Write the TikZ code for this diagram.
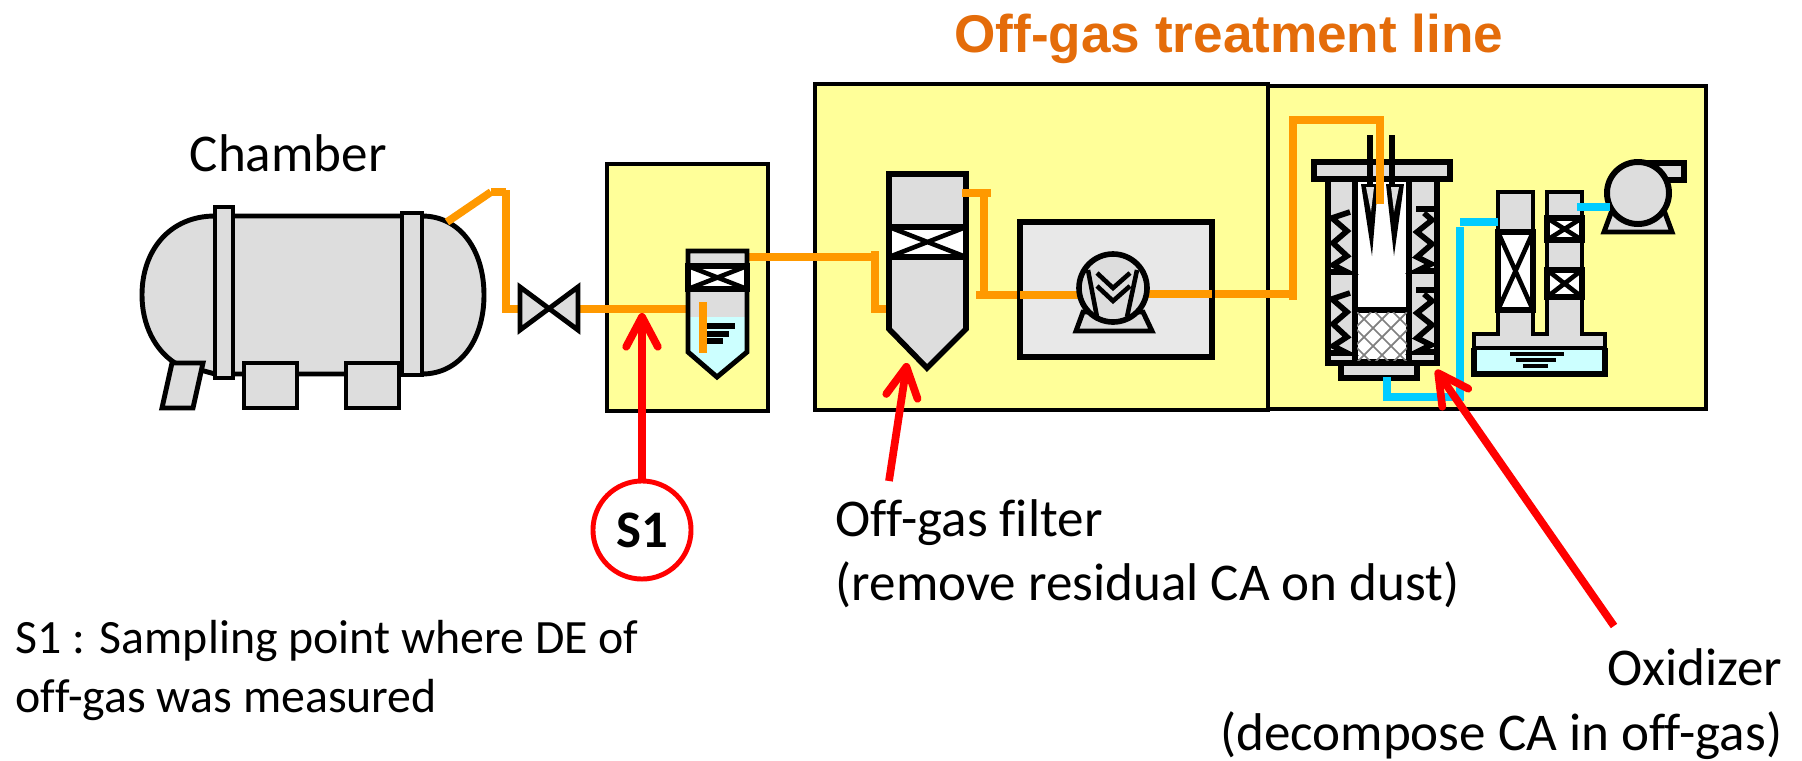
\documentclass[tikz,border=0pt]{standalone}
\usepackage{fontspec}
\setmainfont[Ligatures=NoCommon]{Carlito}
\newfontfamily\titlefont{Liberation Sans}
\usepackage{xcolor}
\definecolor{plant-gray}{HTML}{DDDDDD}
\definecolor{plant-yellow}{HTML}{FFFF99}
\definecolor{plant-pale}{HTML}{E8E8E8}
\definecolor{plant-water}{HTML}{CCFFFF}
\definecolor{plant-orange}{HTML}{FF9900}
\definecolor{plant-cyan}{HTML}{00CCFF}
\definecolor{plant-title}{HTML}{E46C0A}
\usepackage{tikz}
\usetikzlibrary{arrows.meta}
\tikzset{
    unit/.style={fill=plant-yellow, draw=black, line width=1.1pt},
    part/.style={fill=plant-gray, draw=black, line width=1.4pt, line join=miter},
    band/.style={fill=white, draw=black, line width=1.9pt},
    wire/.style={draw=black, line width=1.3pt},
    gaspipe/.style={draw=plant-orange, line width=2.2pt},
    waterpipe/.style={draw=plant-cyan, line width=2.2pt},
    pointer/.style={draw=red, line width=2.2pt, -{Straight Barb[length=8.5pt,width=9pt,round]}},
    label/.style={inner sep=0pt, font=\fontsize{15.1}{18.4}\selectfont, align=left}
}

\begin{document}
\begin{tikzpicture}[x=0.01cm, y=-0.01cm]

    % Background
    \useasboundingbox (0, 0) rectangle (1802, 760);

    % Treatment units
    \draw[unit] (607, 164) rectangle (768, 411);
    \draw[unit] (1268, 86) rectangle (1706, 409);
    \draw[unit] (815, 84) rectangle (1268, 410);

    % Chamber
    \draw[part] (215, 216) .. controls (170, 216) and (142, 250) .. (142, 295)
        .. controls (142, 325) and (155, 350) .. (175, 363) -- (215, 374) -- (422, 374)
        .. controls (460, 374) and (484, 340) .. (484, 295)
        .. controls (484, 250) and (460, 216) .. (422, 216) -- cycle;
    \draw[part] (215, 207) rectangle (233, 378);
    \draw[part] (402, 213) rectangle (422, 375);
    \draw[part] (244, 363) rectangle (297, 408);
    \draw[part] (346, 363) rectangle (399, 408);
    \draw[part] (172, 363) -- (203, 363) -- (193, 408) -- (162, 408) -- cycle;

    % Gas line
    \draw[gaspipe] (447, 222) -- (491, 192);
    \draw[gaspipe] (491, 192) -- (506, 192);
    \draw[gaspipe] (506, 190) -- (506, 309) -- (522, 309);
    \draw[gaspipe] (578, 309) -- (706, 309);
    \draw[gaspipe] (749, 257) -- (875, 257);
    \draw[gaspipe] (875, 251) -- (875, 309) -- (889, 309);
    \draw[gaspipe] (1151, 294) -- (1293, 294);

    % Valve
    \draw[part] (520, 287) -- (578, 330) -- (578, 287) -- (520, 330) -- cycle;

    % Sampling vessel
    \fill[plant-gray] (688, 251) rectangle (747, 317);
    \fill[plant-water] (688, 317) -- (747, 317) -- (747, 352) -- (717, 377) -- (688, 352) -- cycle;
    \draw[wire, line width=1.4pt] (688, 251) -- (747, 251) -- (747, 352) -- (717, 377) -- (688, 352) -- cycle;
    \draw[band] (688, 266) rectangle (747, 289);
    \draw[wire] (688, 266) -- (747, 289) (688, 289) -- (747, 266);
    \fill[black] (707, 323) rectangle (735, 329);
    \fill[black] (707, 331) rectangle (729, 337);
    \fill[black] (707, 338) rectangle (723, 344);
    \draw[gaspipe] (703, 302) -- (703, 353);

    % Off-gas filter
    \draw[part, line width=1.6pt] (889, 174) -- (966, 174) -- (966, 329) -- (927, 368) -- (889, 329) -- cycle;
    \draw[band] (889, 227) rectangle (966, 257);
    \draw[wire] (889, 227) -- (966, 257) (889, 257) -- (966, 227);
    \draw[gaspipe] (962, 193) -- (991, 193);
    \draw[gaspipe] (984, 193) -- (984, 295);
    \draw[gaspipe] (976, 295) -- (1080, 295);

    % Blower
    \draw[part, fill=plant-pale, line width=1.6pt] (1020, 222) rectangle (1212, 357);
    \draw[gaspipe] (1020, 295) -- (1080, 295);
    \draw[gaspipe] (1148, 294) -- (1212, 294);
    \draw[part] (1083, 312) -- (1076, 331) -- (1152, 331) -- (1143, 312) -- cycle;
    \draw[part, line width=1.6pt] (1113, 288) circle (34);
    \draw[wire] (1088, 270) -- (1097, 317);
    \draw[wire] (1137, 270) -- (1127, 317);
    \draw[wire] (1097, 273) -- (1113, 288) -- (1130, 273);
    \draw[wire] (1097, 286) -- (1113, 301) -- (1130, 286);

    % Oxidizer
    \draw[part, line width=1.6pt] (1328, 179) rectangle (1437, 363);
    \draw[part, line width=1.6pt] (1314, 162) rectangle (1450, 179);
    \draw[part, line width=1.6pt] (1341, 363) rectangle (1417, 378);
    \draw[part, line width=1.6pt, fill=white] (1355, 179) rectangle (1409, 310);
    \draw[part, line width=1.6pt, fill=white] (1355, 310) rectangle (1409, 362);
    \begin{scope}
        \clip (1357, 312) rectangle (1407, 360);
        \foreach \xa in {1285, 1303, ..., 1411} {
            \draw[gray, line width=0.5pt] (\xa, 312) -- +(50, 50);
            \draw[gray, line width=0.5pt] (\xa + 50, 312) -- +(-50, 50);
        }
    \end{scope}
    \foreach \ya in {0, 81} {
        \draw[wire, line width=1.6pt, yshift=-\ya*0.01cm] (1350, 212) -- (1332, 218) -- (1347, 231) -- (1333, 243) -- (1347, 256) -- (1333, 265) -- (1347, 272) -- (1330, 272);
        \draw[wire, line width=1.6pt, yshift=-\ya*0.01cm] (1416, 209) -- (1434, 209) (1424, 213) -- (1432, 220) -- (1417, 232) -- (1432, 244) -- (1417, 257) -- (1431, 264) -- (1417, 271) -- (1434, 271);
    }
    \fill[black] (1361, 184) -- (1378, 184) -- (1372, 256) -- cycle;
    \fill[black] (1386, 184) -- (1404, 184) -- (1394, 256) -- cycle;
    \fill[plant-gray] (1366, 187) -- (1374, 187) -- (1371, 212) -- cycle;
    \fill[plant-gray] (1391, 187) -- (1399, 187) -- (1394, 212) -- cycle;
    \draw[wire, line width=1.5pt] (1370, 135) -- (1370, 185);
    \draw[wire, line width=1.5pt] (1392, 135) -- (1392, 185);
    \draw[gaspipe] (1293, 300) -- (1293, 120) -- (1380, 120) -- (1380, 204);

    % Scrubber
    \fill[plant-water] (1474, 348) rectangle (1605, 374);
    \draw[part] (1498, 192) -- (1533, 192) -- (1533, 334) -- (1547, 334) -- (1547, 192) -- (1582, 192) -- (1582, 334) -- (1605, 334) -- (1605, 348) -- (1474, 348) -- (1474, 334) -- (1498, 334) -- cycle;
    \draw[wire, line width=1.5pt] (1474, 348) -- (1474, 374) -- (1605, 374) -- (1605, 348);
    \draw[band] (1498, 232) rectangle (1533, 310);
    \draw[wire] (1498, 232) -- (1533, 310) (1498, 310) -- (1533, 232);
    \draw[band] (1547, 218) rectangle (1582, 240);
    \draw[wire] (1547, 218) -- (1582, 240) (1547, 240) -- (1582, 218);
    \draw[band] (1547, 270) rectangle (1582, 297);
    \draw[wire] (1547, 270) -- (1582, 297) (1547, 297) -- (1582, 270);
    \draw[wire, line width=0.9pt] (1510, 354) -- (1564, 354);
    \draw[wire, line width=0.9pt] (1516, 360) -- (1556, 360);
    \draw[wire, line width=0.9pt] (1523, 366) -- (1548, 366);

    % Fan
    \draw[part, line width=1.6pt] (1638, 163) -- (1684, 163) -- (1684, 180) -- (1638, 180) -- cycle;
    \draw[part] (1611, 213) -- (1604, 232) -- (1672, 232) -- (1665, 213) -- cycle;
    \draw[part, line width=1.7pt] (1638, 193) circle (31);

    % Water line
    \draw[waterpipe] (1387, 377) -- (1387, 397) -- (1460, 397) -- (1460, 227);
    \draw[waterpipe] (1460, 222) -- (1498, 222);
    \draw[waterpipe] (1577, 207) -- (1610, 207);

    % Pointers
    \node[circle, draw=red, line width=1.4pt, fill=white, minimum size=0.98cm, inner sep=0pt, font=\fontsize{15}{18}\selectfont\bfseries] (s1) at (642, 530) {S1};
    \coordinate (s1tip) at (642, 313);
    \coordinate (filtertail) at (889, 481);
    \coordinate (filtertip) at (907, 363);
    \coordinate (oxidizertail) at (1614, 626);
    \coordinate (oxidizertip) at (1436, 370);
    \draw[pointer] (s1) -- (s1tip);
    \draw[pointer] (filtertail) -- (filtertip);
    \draw[pointer] (oxidizertail) -- (oxidizertip);

    % Labels
    \node[inner sep=0pt, anchor=base, text=plant-title, font=\titlefont\fontsize{15.1}{18}\selectfont\bfseries] (title) at (1229, 52) {Off-gas treatment line};
    \node[label, anchor=base west] (chamber) at (189, 171) {Chamber};
    \node[label, anchor=south west] (filter) at (835, 609) {Off-gas filter\\(remove residual CA on dust)};
    \node[label, anchor=south west, font=\fontsize{13.6}{16.7}\selectfont] (note) at (15, 721) {S1 : Sampling point where DE of\\off-gas was measured};
    \node[label, anchor=south east, align=right] (oxidizer) at (1783, 760) {Oxidizer\\(decompose CA in off-gas)};

\end{tikzpicture}
\end{document}
